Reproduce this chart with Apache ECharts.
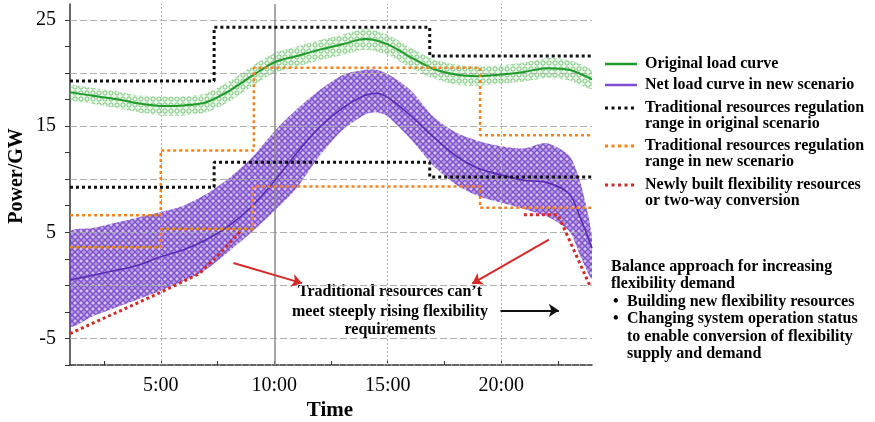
<!DOCTYPE html>
<html><head><meta charset="utf-8">
<script src="https://cdn.jsdelivr.net/npm/echarts@6/dist/echarts.min.js"></script>
<style>html,body{margin:0;padding:0;background:#fff}#c{width:875px;height:422px}</style>
</head><body><div id="c"></div>
<script>
// ---------- data ----------
const hours = [1,2,3,4,5,6,7,8,9,10,11,12,13,14,15,16,17,18,19,20,21,22,23,24];
const originalLoad  = [18.2,17.85,17.55,17.15,16.9,16.95,17.25,18.3,19.7,21.0,21.6,22.2,22.7,23.2,22.7,21.5,20.4,19.85,19.7,19.85,20.1,20.45,20.3,19.4];
const originalUpper = [18.8,18.6,18.3,17.9,17.8,17.8,18.1,19.2,20.6,21.9,22.5,23.1,23.6,24.2,23.6,22.4,21.3,20.8,20.6,20.75,21.0,21.4,21.2,20.2];
const originalLower = [17.5,17.1,16.7,16.3,16.0,16.0,16.3,17.3,18.7,20.0,20.6,21.2,21.7,22.2,21.7,20.5,19.5,18.9,18.8,19.0,19.2,19.5,19.3,18.5];

const netHours = [1,2,3,4,5,6,7,8,9,10,11,12,13,14,14.5,15,16,17,18,19,20,21,22,23,23.5,24];
const netLoad  = [0.5,0.95,1.4,1.9,2.7,3.35,4.3,5.6,7.4,9.8,12.5,14.9,16.7,17.9,18.1,17.7,16.0,14.0,12.2,11.0,10.4,9.9,9.7,8.6,6.3,3.5];
const netUpper = [5.0,5.4,5.9,6.4,6.9,7.5,8.6,10.1,12.0,14.5,16.6,18.4,19.8,20.3,20.3,19.9,18.4,15.9,14.4,13.6,13.1,12.9,13.4,12.2,9.6,4.6];
const netLower = [-3.8,-2.9,-2.1,-1.3,-0.5,0.4,1.5,3.2,5.0,7.0,9.2,12.2,14.6,16.1,16.3,15.9,13.8,11.3,9.5,8.4,7.8,7.2,6.5,5.1,2.7,0.6];

const origRangeX     = [1,7.35,7.35,16.85,16.85,24];
const origRangeUpper = [19.25,19.25,24.3,24.3,21.6,21.6];
const origRangeLower = [9.25,9.25,11.6,11.6,10.2,10.2];

const newUpperX  = [1,5,5,9.1,9.1,19.07,19.07,24];
const newUpper   = [6.6,6.6,12.7,12.7,20.5,20.5,14.15,14.15];
const newLowerX  = [1,5,5,9.05,9.05,19.07,19.07,24];
const newLower   = [3.6,3.6,5.3,5.3,9.3,9.3,7.3,7.3];

const flexLeftX  = [1,5,6.7,7.6,8.55];
const flexLeft   = [-4.55,-0.65,1.1,3.0,5.2];
const flexRightX = [21,22.5,23.9];
const flexRight  = [6.65,6.65,0];

const xLabels = [5,10,15,20];
const xTicks  = [2.5,5,7.5,10,12.5,15,17.5,20,22.5];
const yLabels = [25,15,5,-5];
const yTicks  = [-7.5,-5,-2.5,0,2.5,5,7.5,10,12.5,15,17.5,20,22.5,25];
const yGrid   = [-5,0,5,10,15,20,25];
const xGridDotted = [5,15,20];
const xGridSolid  = [10];

// ---------- helpers ----------
const pair = (xs, ys) => xs.map((x, i) => [x, ys[i]]);
function ringPattern(size, r, ring, bg, dot) {
  const c = document.createElement('canvas');
  c.width = size; c.height = size;
  const g = c.getContext('2d');
  g.fillStyle = bg; g.fillRect(0, 0, size, size);
  g.strokeStyle = ring; g.lineWidth = 1;
  g.beginPath(); g.arc(size / 2, size / 2, r, 0, Math.PI * 2); g.stroke();
  if (dot) { g.fillStyle = dot; g.beginPath(); g.arc(size / 2, size / 2, r * 0.45, 0, Math.PI * 2); g.fill(); }
  return { image: c, repeat: 'repeat' };
}
const purplePat = ringPattern(6, 2.4, 'rgba(95,45,185,0.85)', 'rgba(140,95,215,0.62)', 'rgba(235,225,250,0.75)');
const greenPat  = ringPattern(6, 2.1, 'rgba(80,180,80,0.7)', 'rgba(170,225,170,0.25)', null);

function bandSeries(xs, lo, hi, fill, z) {
  return {
    type: 'custom', z: z, silent: true, clip: true,
    data: [[xs[0], lo[0]]],
    renderItem: function (params, api) {
      const top = xs.map((x, i) => api.coord([x, hi[i]]));
      const bot = xs.map((x, i) => api.coord([x, lo[i]])).reverse();
      return { type: 'polygon', shape: { points: top.concat(bot), smooth: 0.25 }, style: { fill: fill, stroke: null } };
    }
  };
}

const SERIF = '"Liberation Serif","DejaVu Serif",serif';
const GREEN = '#1f9a2b', PURPLE = '#5a2bb5', BLACK = '#111', ORANGE = '#f5821f', RED = '#d42a2a';

const chart = echarts.init(document.getElementById('c'), null, { renderer: 'canvas' });

const option = {
  animation: false,
  backgroundColor: '#fff',
  grid: { left: 70, right: 283, top: 4, bottom: 57, containLabel: false },
  xAxis: {
    type: 'value', min: 1, max: 24,
    axisLine: { show: true, onZero: false, lineStyle: { color: '#333', width: 1.5, type: [6, 1.5] } },
    axisTick: { show: true, customValues: xTicks, length: 4, inside: true, lineStyle: { color: '#333' } },
    axisLabel: { customValues: xLabels, formatter: v => v + ':00', fontFamily: SERIF, fontSize: 20, color: '#000', margin: 11 },
    splitLine: { show: false }
  },
  yAxis: {
    type: 'value', min: -7.5, max: 26.5,
    axisLine: { show: true, onZero: false, lineStyle: { color: '#333', width: 1.5 } },
    axisTick: { show: true, customValues: yTicks, length: 5, lineStyle: { color: '#333' } },
    axisLabel: { customValues: yLabels, fontFamily: SERIF, fontSize: 20, color: '#000', margin: 14 },
    splitLine: { show: false }
  },
  series: [
    // green scatter band
    bandSeries(hours, originalLower, originalUpper, greenPat, 2),
    // purple scatter band
    bandSeries(netHours, netLower, netUpper, purplePat, 3),
    // gridlines (seen through the scatter bands)
    {
      type: 'line', data: [], z: 4, silent: true,
      markLine: {
        silent: true, symbol: 'none', label: { show: false }, animation: false,
        data: [
          ...yGrid.map(v => ({ yAxis: v, lineStyle: { color: '#a8a8a8', type: [7, 3], width: 1.1, opacity: 0.9 } })),
          ...xGridDotted.map(v => ({ xAxis: v, lineStyle: { color: '#adadad', type: [2, 2], width: 1 } })),
          ...xGridSolid.map(v => ({ xAxis: v, lineStyle: { color: '#8a8a8a', type: 'solid', width: 1.5 } }))
        ]
      }
    },
    // original load curve
    { name: 'Original load curve', type: 'line', data: pair(hours, originalLoad), symbol: 'none', smooth: 0.3,
      lineStyle: { color: GREEN, width: 2 }, z: 5 },
    // net load curve
    { name: 'Net load curve in new scenario', type: 'line', data: pair(netHours, netLoad), symbol: 'none', smooth: 0.3,
      lineStyle: { color: PURPLE, width: 1.6 }, z: 5 },
    // regulation ranges
    { type: 'line', data: pair(origRangeX, origRangeUpper), symbol: 'none', lineStyle: { color: BLACK, width: 3, type: [3, 3] }, z: 6 },
    { type: 'line', data: pair(origRangeX, origRangeLower), symbol: 'none', lineStyle: { color: BLACK, width: 3, type: [3, 3] }, z: 6 },
    { type: 'line', data: pair(newUpperX, newUpper), symbol: 'none', lineStyle: { color: ORANGE, width: 2.5, type: [3, 3] }, z: 6 },
    { type: 'line', data: pair(newLowerX, newLower), symbol: 'none', lineStyle: { color: ORANGE, width: 2.5, type: [3, 3] }, z: 6 },
    // newly built flexibility
    { type: 'line', data: pair(flexLeftX, flexLeft), symbol: 'none', lineStyle: { color: RED, width: 3, type: [3, 3] }, z: 7 },
    { type: 'line', data: pair(flexRightX, flexRight), symbol: 'none', lineStyle: { color: RED, width: 3, type: [3, 3] }, z: 7 },
    // annotation arrows
    {
      type: 'line', data: [], z: 8, silent: true,
      markLine: {
        silent: true, symbol: ['none', 'arrow'], symbolSize: 10, label: { show: false }, animation: false,
        data: [
          [{ coord: [8.2, 2.1], lineStyle: { color: RED, width: 2, type: 'solid' } }, { coord: [11.22, 0.21] }],
          [{ coord: [22.1, 4.31], lineStyle: { color: RED, width: 2, type: 'solid' } }, { coord: [18.72, 0.16] }],
          [{ coord: [19.97, -2.36], lineStyle: { color: '#111', width: 2, type: 'solid' } }, { coord: [22.54, -2.36] }]
        ]
      }
    }
  ],
  graphic: [
    // axis names
    { type: 'text', x: 17, y: 176, rotation: Math.PI / 2,
      style: { text: 'Power/GW', font: 'bold 20px ' + SERIF, fill: '#000', align: 'center', verticalAlign: 'middle' } },
    { type: 'text', x: 330, y: 411, style: { text: 'Time', font: 'bold 21px ' + SERIF, fill: '#000', align: 'center', verticalAlign: 'middle' } },
    // legend swatches
    { type: 'line', shape: { x1: 605, y1: 64, x2: 637, y2: 64 }, style: { stroke: GREEN, lineWidth: 2.5 } },
    { type: 'line', shape: { x1: 605, y1: 85, x2: 637, y2: 85 }, style: { stroke: '#7a4fd0', lineWidth: 2.5 } },
    { type: 'line', shape: { x1: 605, y1: 108, x2: 637, y2: 108 }, style: { stroke: BLACK, lineWidth: 3, lineDash: [3, 3.5] } },
    { type: 'line', shape: { x1: 605, y1: 146, x2: 637, y2: 146 }, style: { stroke: ORANGE, lineWidth: 3, lineDash: [3, 3.5] } },
    { type: 'line', shape: { x1: 605, y1: 185, x2: 637, y2: 185 }, style: { stroke: RED, lineWidth: 3, lineDash: [3, 3.5] } },
    // legend texts
    ...[
      ['Original load curve', 64],
      ['Net load curve in new scenario', 85],
      ['Traditional resources regulation', 108],
      ['range in original scenario', 123.5],
      ['Traditional resources regulation', 146],
      ['range in new scenario', 162],
      ['Newly built flexibility resources', 185],
      ['or two-way conversion', 201]
    ].map(([t, y]) => ({ type: 'text', x: 645, y: y,
      style: { text: t, font: 'bold 16px ' + SERIF, fill: '#000', align: 'left', verticalAlign: 'middle' } })),
    // middle annotation
    ...[
      ["Traditional resources can\u2019t", 291.5],
      ['meet steeply rising flexibility', 311.5],
      ['requirements', 330]
    ].map(([t, y]) => ({ type: 'text', x: 390, y: y,
      style: { text: t, font: 'bold 16px ' + SERIF, fill: '#000', align: 'center', verticalAlign: 'middle' } })),
    // right block
    ...[
      ['Balance approach for increasing', 611, 266.5],
      ['flexibility demand', 611, 283.5],
      ['\u2022', 613, 301.5],
      ['Building new flexibility resources', 627, 301.5],
      ['\u2022', 613, 319],
      ['Changing system operation status', 627, 319],
      ['to enable conversion of flexibility', 627, 336.5],
      ['supply and demand', 627, 354]
    ].map(([t, x, y]) => ({ type: 'text', x: x, y: y,
      style: { text: t, font: 'bold 16px ' + SERIF, fill: '#000', align: 'left', verticalAlign: 'middle' } }))
  ]
};
chart.setOption(option);
</script>
</body></html>
